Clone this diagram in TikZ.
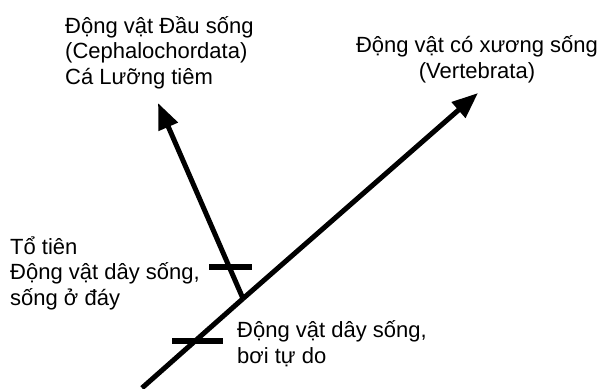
\documentclass[tikz,border=0pt]{standalone}
\usepackage{fontspec}
\setmainfont{Liberation Sans}
\usetikzlibrary{arrows.meta}
\begin{document}
\begin{tikzpicture}[x=1pt,y=-1pt,
  branchline/.style={line width=5pt},
  tickline/.style={line width=6pt},
  arrowed/.style={branchline,-{Triangle[length=26pt,width=20pt]}},
  lbl/.style={inner sep=0pt,font=\fontsize{22}{25.5}\selectfont}]
\useasboundingbox (0,0) rectangle (599,388);
\coordinate (root) at (142,388);
\coordinate (vert) at (478,93);
\coordinate (junc) at (243,298.6);
\coordinate (ceph) at (158,103);
\coordinate (t1a) at (209,267);
\coordinate (t1b) at (252,267);
\coordinate (t2a) at (172,341);
\coordinate (t2b) at (223,341);
\draw[branchline] (root) -- (junc);
\draw[arrowed] (junc) -- (vert);
\draw[arrowed] (junc) -- (ceph);
\draw[tickline] (t1a) -- (t1b);
\draw[tickline] (t2a) -- (t2b);
\node[lbl,anchor=base west,align=left] (cephlbl) at (65,84) {Động vật Đầu sống\\(Cephalochordata)\\Cá Lưỡng tiêm};
\node[lbl,anchor=base,align=center] (vertlbl) at (477,78) {Động vật có xương sống\\(Vertebrata)};
\node[lbl,anchor=base west,align=left] (anclbl) at (10,305) {Tổ tiên\\Động vật dây sống,\\sống ở đáy};
\node[lbl,anchor=base west,align=left] (freelbl) at (237,363) {Động vật dây sống,\\bơi tự do};
\end{tikzpicture}
\end{document}
